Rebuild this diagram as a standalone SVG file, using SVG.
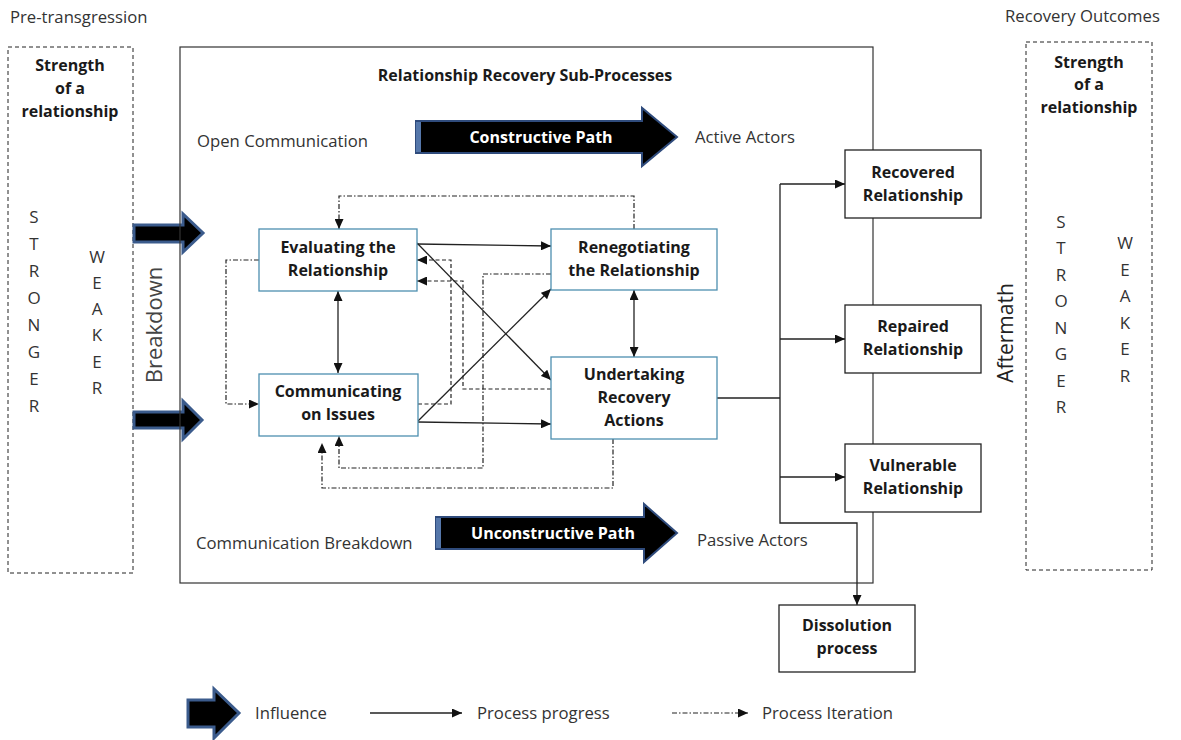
<svg xmlns="http://www.w3.org/2000/svg" width="1181" height="740" viewBox="0 0 1181 740">
<style>
text{font-family:"Open Sans","Liberation Sans",sans-serif;fill:#1a1a1a}
.reg{font-size:16.7px;fill:#333}
.b{font-size:16px;font-weight:bold}
.tb{font-size:16px;font-weight:bold}
.let{font-size:17px;fill:#333;text-anchor:middle}
.c{text-anchor:middle}
.side{fill:none;stroke:#222;stroke-width:1;stroke-dasharray:4 3}
.nb{fill:#fff;stroke:#4d8fb0;stroke-width:1.3}
.nk{fill:#fff;stroke:#222;stroke-width:1.3}
.pp{fill:none;stroke:#222;stroke-width:1.3}
.it{fill:none;stroke:#222;stroke-width:1.2;stroke-dasharray:5 2 1.5 2}
.da{fill:none;stroke:#222;stroke-width:1.2;stroke-dasharray:4 2.5}
.inf{fill:#000;stroke:#3b5b8c;stroke-width:3;stroke-linejoin:miter}
.big{fill:#000;stroke:#2f4b7c;stroke-width:2}
</style>
<defs>
<marker id="ah" viewBox="0 0 10 9" refX="10" refY="4.5" markerWidth="10" markerHeight="9" markerUnits="userSpaceOnUse" orient="auto-start-reverse"><path d="M0,0 L10,4.5 L0,9 z" fill="#111"/></marker>
</defs>
<rect width="1181" height="740" fill="#fff"/>

<!-- headings -->
<text class="reg" x="10" y="23">Pre-transgression</text>
<text class="reg" x="1005" y="22">Recovery Outcomes</text>

<!-- left strength panel -->
<g id="pre-strength">
<rect class="side" x="8" y="47" width="125" height="526"/>
<text class="b c" x="70" y="71">Strength</text>
<text class="b c" x="70" y="94">of a</text>
<text class="b c" x="70" y="117">relationship</text>
<text class="let" x="34" y="223">S</text><text class="let" x="34" y="250">T</text><text class="let" x="34" y="277">R</text><text class="let" x="34" y="304">O</text><text class="let" x="34" y="331">N</text><text class="let" x="34" y="358">G</text><text class="let" x="34" y="385">E</text><text class="let" x="34" y="412">R</text>
<text class="let" x="97" y="263">W</text><text class="let" x="97" y="289">E</text><text class="let" x="97" y="315">A</text><text class="let" x="97" y="341">K</text><text class="let" x="97" y="368">E</text><text class="let" x="97" y="394">R</text>
</g>

<!-- right strength panel -->
<g id="post-strength">
<rect class="side" x="1026" y="42" width="126" height="528"/>
<text class="b c" x="1089" y="68">Strength</text>
<text class="b c" x="1089" y="90">of a</text>
<text class="b c" x="1089" y="113">relationship</text>
<text class="let" x="1061" y="228">S</text><text class="let" x="1061" y="254">T</text><text class="let" x="1061" y="281">R</text><text class="let" x="1061" y="307">O</text><text class="let" x="1061" y="334">N</text><text class="let" x="1061" y="360">G</text><text class="let" x="1061" y="387">E</text><text class="let" x="1061" y="413">R</text>
<text class="let" x="1125" y="249">W</text><text class="let" x="1125" y="276">E</text><text class="let" x="1125" y="302">A</text><text class="let" x="1125" y="329">K</text><text class="let" x="1125" y="355">E</text><text class="let" x="1125" y="382">R</text>
</g>

<!-- influence arrows -->
<g id="influence-arrows">
<polygon class="inf" points="134,225 183,225 183,214 203,233 183,252 183,242 134,242"/>
<polygon class="inf" points="134,412 183,412 183,401 202,420 183,439 183,428 134,428"/>
</g>

<text transform="translate(162,325) rotate(-90)" class="c" style="font-size:22px;fill:#444">Breakdown</text>
<text transform="translate(1013,333) rotate(-90)" class="c" style="font-size:21px;fill:#222">Aftermath</text>

<!-- main container -->
<rect x="180" y="47" width="693" height="536" fill="none" stroke="#333" stroke-width="1.2"/>
<text class="tb c" x="525" y="81">Relationship Recovery Sub-Processes</text>
<text class="reg" x="197" y="147">Open Communication</text>
<text class="reg" x="695" y="143">Active Actors</text>
<text class="reg" x="196" y="549">Communication Breakdown</text>
<text class="reg" x="697" y="546">Passive Actors</text>

<g id="constructive-path">
<polygon class="big" points="416,121 642,121 642,108 677,137 642,166 642,153 416,153"/>
<rect x="416" y="122" width="5" height="30" fill="#5577aa"/>
<text class="tb c" x="541" y="143" style="fill:#fff">Constructive Path</text>
</g>
<g id="unconstructive-path">
<polygon class="big" points="436,517 644,517 644,504 677,533 644,562 644,549 436,549"/>
<rect x="436" y="518" width="5" height="30" fill="#5577aa"/>
<text class="tb c" x="553" y="539" style="fill:#fff">Unconstructive Path</text>
</g>

<!-- connectors -->
<g id="connectors">
<path class="pp" d="M338,291 V373" marker-start="url(#ah)" marker-end="url(#ah)"/>
<path class="pp" d="M634,290 V357" marker-start="url(#ah)" marker-end="url(#ah)"/>
<path class="pp" d="M417,244 L551,246" marker-end="url(#ah)"/>
<path class="pp" d="M417,243 L551,380" marker-end="url(#ah)"/>
<path class="pp" d="M418,421 L551,289" marker-end="url(#ah)"/>
<path class="pp" d="M418,422 L551,424" marker-end="url(#ah)"/>
<path class="it" d="M634,229 V196 H339 V229" marker-end="url(#ah)"/>
<path class="it" d="M259,260 H226 V404 H259" marker-end="url(#ah)"/>
<path class="da" d="M418,404 H451 V260 H417" marker-end="url(#ah)"/>
<path class="da" d="M551,389 H463 V281 H417" marker-end="url(#ah)"/>
<path class="it" d="M551,274 H483 V468 H339 V436" marker-end="url(#ah)"/>
<path class="it" d="M613,439 V488 H322 V443" marker-end="url(#ah)"/>
<path class="pp" d="M717,398 H780"/>
<path class="pp" d="M780,184 V523 H857 V605" marker-end="url(#ah)"/>
<path class="pp" d="M780,184 H845" marker-end="url(#ah)"/>
<path class="pp" d="M780,339 H845" marker-end="url(#ah)"/>
<path class="pp" d="M780,477 H845" marker-end="url(#ah)"/>
</g>

<!-- process nodes -->
<g id="evaluating">
<rect class="nb" x="259" y="229" width="158" height="62"/>
<text class="b c" x="338" y="253">Evaluating the</text>
<text class="b c" x="338" y="276">Relationship</text>
</g>
<g id="communicating">
<rect class="nb" x="259" y="374" width="159" height="62"/>
<text class="b c" x="338" y="397">Communicating</text>
<text class="b c" x="338" y="420">on Issues</text>
</g>
<g id="renegotiating">
<rect class="nb" x="551" y="229" width="166" height="61"/>
<text class="b c" x="634" y="253">Renegotiating</text>
<text class="b c" x="634" y="276">the Relationship</text>
</g>
<g id="undertaking">
<rect class="nb" x="551" y="357" width="166" height="82"/>
<text class="b c" x="634" y="380">Undertaking</text>
<text class="b c" x="634" y="403">Recovery</text>
<text class="b c" x="634" y="426">Actions</text>
</g>

<!-- outcome nodes -->
<g id="recovered">
<rect class="nk" x="845" y="150" width="136" height="68"/>
<text class="b c" x="913" y="178">Recovered</text>
<text class="b c" x="913" y="201">Relationship</text>
</g>
<g id="repaired">
<rect class="nk" x="845" y="305" width="136" height="68"/>
<text class="b c" x="913" y="332">Repaired</text>
<text class="b c" x="913" y="355">Relationship</text>
</g>
<g id="vulnerable">
<rect class="nk" x="845" y="444" width="136" height="68"/>
<text class="b c" x="913" y="471">Vulnerable</text>
<text class="b c" x="913" y="494">Relationship</text>
</g>
<g id="dissolution">
<rect class="nk" x="779" y="605" width="136" height="67"/>
<text class="b c" x="847" y="631">Dissolution</text>
<text class="b c" x="847" y="654">process</text>
</g>

<!-- legend -->
<g id="legend">
<polygon class="inf" points="188,700 214,700 214,689 239,713 214,738 214,727 188,727"/>
<text class="reg" x="255" y="719">Influence</text>
<path class="pp" d="M370,713 H462" marker-end="url(#ah)"/>
<text class="reg" x="477" y="719">Process progress</text>
<path class="it" d="M672,713 H748" marker-end="url(#ah)"/>
<text class="reg" x="762" y="719">Process Iteration</text>
</g>
</svg>
